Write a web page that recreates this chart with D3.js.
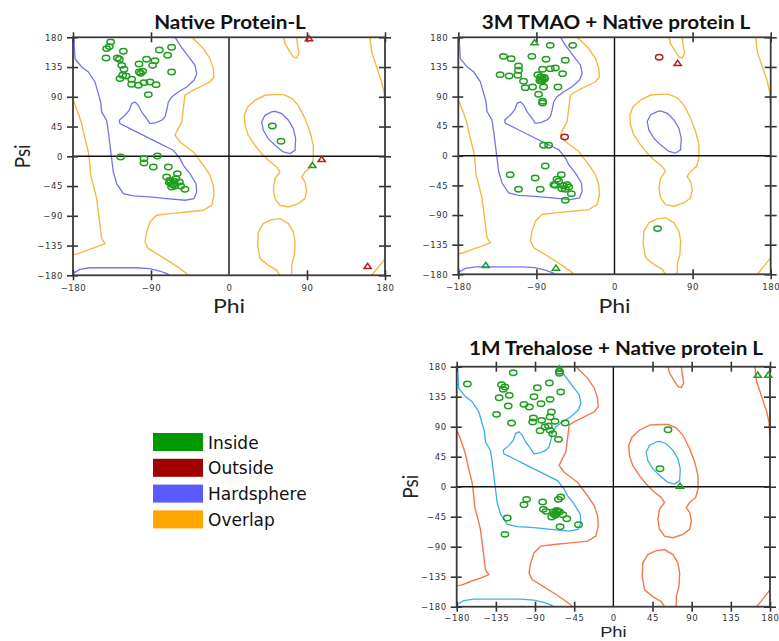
<!DOCTYPE html>
<html>
<head>
<meta charset="utf-8">
<script src="https://cdn.jsdelivr.net/npm/d3@7"></script>
<style>
  body { margin: 0; background: #fff; }
  svg { display: block; }
</style>
</head>
<body>
<svg id="chart" width="779" height="641"></svg>
<script>
// ---------- Ramachandran region contours, [phi, psi] in degrees ----------
const coreMain = [[-179,180],[-177.7,147.7],[-170,135.1],[-162.3,127.6],[-154.6,112.4],[-150.8,94.8],[-148.1,82.2],[-146.9,67.1],[-141.2,54.5],[-139.2,36.8],[-137.3,16.6],[-135.4,-3.5],[-133.5,-23.7],[-129.6,-41.3],[-121.9,-56.5],[-110.4,-60],[-91.2,-61.5],[-71.9,-64],[-50.8,-66.5],[-40.4,-64],[-37.3,-53.9],[-38.1,-41.3],[-45,-26.2],[-52.7,-13.6],[-56.5,-3.5],[-64.2,9.1],[-71.9,14.1],[-79.6,19.2],[-91.2,26.7],[-102.7,34.3],[-114.2,41.9],[-125.8,49.4],[-126.5,54.5],[-120,62],[-115,69.6],[-112.3,79.7],[-108.5,82.2],[-104.6,77.1],[-100.8,67.1],[-95,57],[-91.2,49.4],[-84.2,50.9],[-77.7,54.5],[-73.9,59.5],[-71.9,69.6],[-70,82.2],[-66.2,89.7],[-58.5,97.3],[-48.9,104.9],[-40.4,115],[-37.3,125],[-39.2,137.6],[-45,147.7],[-50.8,157.8],[-56.5,167.9],[-61.2,178],[-62.7,180]];
const coreBottom = [[-180,-177],[-172,-171],[-160.5,-168.6],[-137.6,-168.6],[-106.9,-168.6],[-91.5,-170],[-80,-173.5],[-72.3,-177],[-68.5,-180]];
const coreLeftAlpha = [[49.2,67.1],[41.5,62],[37.7,52],[39.6,39.3],[45.4,26.7],[53.1,16.6],[62.7,6.6],[70.4,4],[76.2,9.1],[76.9,26.7],[74.2,41.9],[68.5,54.5],[60.8,64.5],[53.1,68.1],[49.2,67.1]];

const allowedLeft = [[-180,80],[-178.8,82.2],[-173.8,64.5],[-170,49.4],[-166.2,26.7],[-162.3,6.6],[-160.4,-13.6],[-159.6,-28.7],[-156.5,-43.9],[-152.7,-64],[-150.8,-84.2],[-148.8,-104.4],[-146.9,-124.5],[-143.1,-132.1],[-152.7,-137.1],[-164.2,-142.2],[-173.8,-147.2],[-180,-148.7]];
const allowedMain = [[-43.1,180],[-37.3,172.9],[-29.6,162.9],[-21.9,147.7],[-18.1,132.6],[-17.3,120],[-21.9,112.4],[-33.5,104.9],[-45,97.3],[-50.8,92.3],[-52.7,72.1],[-54.6,52],[-59.6,39.3],[-62.3,31.8],[-56.5,21.7],[-48.9,14.1],[-41.2,6.6],[-35.4,-3.5],[-29.6,-13.6],[-21.9,-28.7],[-18.1,-43.9],[-17.3,-59],[-20,-74.1],[-29.6,-81.7],[-48.9,-84.2],[-68.1,-86.7],[-83.5,-89.2],[-91.2,-99.3],[-95,-114.4],[-96.9,-129.6],[-93.1,-139.7],[-83.5,-147.2],[-68.1,-159.8],[-56.5,-169.9],[-48.9,-177.5],[-46.9,-180]];
const allowedLeftAlpha = [[53.1,93.3],[41.5,92.3],[30,84.7],[21.5,74.6],[17.7,62],[18.5,46.9],[22.3,31.8],[30,16.6],[37.7,4],[45.4,-6],[55,-16.1],[58.8,-23.7],[53.1,-33.8],[51.2,-48.9],[53.1,-64],[58.8,-74.1],[68.5,-76.6],[80,-71.6],[87.7,-64],[89.6,-51.4],[87.7,-38.8],[83.8,-31.3],[87.7,-23.7],[94.6,-16.1],[97.3,-3.5],[97.3,16.6],[93.5,36.8],[87.7,57],[80,77.1],[72.3,88.2],[62.7,93.3],[53.1,93.3]];
const allowedTopLoop = [[62.7,180],[64.6,170.4],[70.4,157.8],[74.2,150.3],[78.1,148.7],[80.8,155.3],[79.2,167.9],[78.1,180]];
const allowedBottomLoop = [[58.8,-180],[55,-172.4],[45.4,-164.9],[35.8,-154.8],[33.1,-134.6],[33.8,-114.5],[39.6,-101.8],[49.2,-95.8],[58.8,-94.3],[68.5,-101.8],[74.2,-114.5],[76.2,-129.6],[75.4,-149.7],[72.3,-164.9],[72.3,-180]];
const allowedRightTop = [[162.7,180],[164.6,157.8],[168.5,142.7],[172.3,127.6],[176.2,112.4],[178.8,97.3],[179.6,79.7],[180,79],[180,112]];
const allowedRightBottom = [[180,-154.8],[175.4,-162.3],[170.4,-170.9],[164.6,-180]];

const coreContours = [coreMain, coreBottom, coreLeftAlpha];
const allowedContours = [allowedLeft, allowedMain, allowedLeftAlpha, allowedTopLoop, allowedBottomLoop, allowedRightTop, allowedRightBottom];

// ---------- residues, [phi, psi] ----------
const nativeInsideCircles = [[-136.5,172.9],[-138.1,165.9],[-141.2,162.9],[-141.9,148.7],[-128.8,148.7],[-121.9,158.8],[-126.5,146.7],[-123.8,137.6],[-121.2,131.6],[-122.7,122.5],[-125.8,117.5],[-118.8,121.5],[-112.3,116.5],[-112.3,108.9],[-104.6,107.4],[-98.1,111.4],[-91.2,112.4],[-84.2,108.4],[-103.5,127.6],[-99.6,128.6],[-101.9,125.5],[-103.8,139.7],[-95,146.7],[-85.4,144.7],[-88.1,137.6],[-80.4,160.8],[-66.2,164.9],[-70.8,152.8],[-66.2,127.6],[-93.1,93.3],
  [-125,-1],[-98.1,-3.5],[-98.1,-10.1],[-82.7,0.5],[-87.3,-16.1],[-70,-16.1],[-59.6,-26.2],[-71.9,-31.3],[-68.1,-36.3],[-64.2,-41.3],[-67.3,-38.8],[-65,-42.9],[-63.5,-37.8],[-66.2,-46.4],[-61.2,-33.8],[-68.9,-39.8],[-62.3,-44.9],[-57.3,-38.8],[-55.8,-44.9],[-50.8,-49.9],
  [50,45.9],[60,22.7]];
const nativeInsideTriangles = [[96.2,-13.6]];
const nativeOutsideCircles = [];
const nativeOutsideTriangles = [[92.3,178],[106.9,-4.5],[160,-166.4]];

const tmaoInsideCircles = [[-74,167.8],[-48.2,167.8],[-128,151.1],[-119.1,147.6],[-95.2,151.1],[-78.9,146.6],[-56.7,145.1],[-110.6,136.5],[-110.6,129.9],[-131.8,123.3],[-121.4,121.3],[-111.4,122.3],[-104.8,113.2],[-102.9,103.5],[-94.4,104.6],[-82.9,131.4],[-74,132.4],[-68.2,133.4],[-59.8,124.8],[-88.3,123.3],[-85.6,117.2],[-83.6,113.2],[-81.7,104.6],[-65.2,104.6],[-87.5,93.4],[-82.9,82.8],[-82.9,80.3],[-80.6,117.2],[-85,120],[-83,116],[-86,114],[-81,119],
  [-81.7,16],[-75.9,16],
  [-79.8,-15.4],[-120.3,-28.6],[-91.4,-33.7],[-110.6,-50.9],[-85.6,-50.9],[-61.3,-28.6],[-66.3,-35.7],[-68.2,-44.8],[-69.8,-43.8],[-64.4,-38.7],[-58.6,-45.8],[-54.7,-43.8],[-56.7,-50.9],[-49.7,-57.5],[-56.7,-67.6],[-60.5,-49.9],[-52.8,-47.3],
  [49.6,-110.6]];
const tmaoInsideTriangles = [[-92.1,171.9],[-148.4,-166.3],[-67.5,-170.4]];
const tmaoOutsideCircles = [[-57.5,28.6],[51.5,149.6]];
const tmaoOutsideTriangles = [[72.8,140.5]];

const trehaloseInsideCircles = [[-115,171],[-167.7,154],[-128.5,153],[-124.6,149.5],[-126.5,146],[-119.6,137],[-131.2,133.5],[-120.8,121],[-134.2,108.5],[-116.9,95.5],[-87.3,148.5],[-73.5,155.5],[-60.4,142],[-91.2,135],[-72.7,131],[-83.1,124.5],[-102.7,123.5],[-96.5,119.5],[-71.2,112],[-91.9,103],[-92.7,97],[-82.3,99.5],[-72.7,104.5],[-67,98],[-55.4,95.5],[-84.2,84],[-78.5,89.5],[-74.6,91],[-72.7,84.5],[-69.6,79.5],[-63.1,71],[-61.9,173],[-61.9,170],
  [-99.6,-19],[-102.7,-27],[-81.2,-23],[-60.4,-15.5],[-63.1,-19],[-80.4,-34],[-77.3,-37],[-68.9,-38],[-65,-35.5],[-61.9,-38],[-66.9,-43],[-70.8,-45.5],[-58.1,-42],[-53.5,-48],[-66,-40],[-64,-37],[-68,-41],[-121.9,-47],[-40,-57],[-61.2,-60],[-124.6,-71.5],
  [62.8,85.5],[53.6,27]];
const trehaloseInsideTriangles = [[-62,177],[76.6,1],[165.9,167.5],[178,167.5]];
const trehaloseOutsideCircles = [];
const trehaloseOutsideTriangles = [];

// ---------- labels and ticks ----------
const panelTitles = ["Native Protein-L", "3M TMAO + Native protein L", "1M Trehalose + Native protein L"];
const psiTicks = [180, 135, 90, 45, 0, -45, -90, -135, -180];
const phiTicksSparse = [-180, -90, 0, 90, 180];
const phiTicksDense = [-180, -135, -90, -45, 0, 45, 90, 135, 180];
const legendLabels = ["Inside", "Outside", "Hardsphere", "Overlap"];
const legendColors = ["#009a00", "#a00000", "#5a5aff", "#ffa500"];

// ---------- layout ----------
const panels = [
  { x0: 73, x1: 385, y0: 37.3, y1: 275.3, title: panelTitles[0], titleX: 230, titleY: 29,
    phiTicks: phiTicksSparse, tickPad: 5, phiLabelY: 313, phiSize: 19.5, phiFont: "Lato",
    psiLabel: true, psiLabelX: 30,
    core: "#7474ee", allowed: "#f6b845",
    inC: nativeInsideCircles, inT: nativeInsideTriangles, outC: nativeOutsideCircles, outT: nativeOutsideTriangles },
  { x0: 458.3, x1: 770.7, y0: 37.3, y1: 274.3, title: panelTitles[1], titleX: 616, titleY: 29,
    phiTicks: phiTicksSparse, tickPad: 5, phiLabelY: 313, phiSize: 19.5, phiFont: "Lato",
    psiLabel: false,
    core: "#7474ee", allowed: "#f6b845",
    inC: tmaoInsideCircles, inT: tmaoInsideTriangles, outC: tmaoOutsideCircles, outT: tmaoOutsideTriangles },
  { x0: 456.7, x1: 770, y0: 366.7, y1: 606.7, title: panelTitles[2], titleX: 616, titleY: 355,
    phiTicks: phiTicksDense, tickPad: 3, phiLabelY: 637.4, phiSize: 15.5, phiFont: "Liberation Sans",
    psiLabel: true, psiLabelX: 418,
    core: "#3aaee8", allowed: "#f27a4a",
    inC: trehaloseInsideCircles, inT: trehaloseInsideTriangles, outC: trehaloseOutsideCircles, outT: trehaloseOutsideTriangles }
];

const svg = d3.select("#chart");
const green = "#1f9e1f", red = "#b51d1d";
const tri = "M0,-3L3.6,2.2L-3.6,2.2Z";

function stretchedText(g, x, y, k, txt) {
  return g.append("text").attr("transform", `translate(${x},${y}) scale(${k},1)`).text(txt);
}

panels.forEach((p, i) => {
  const x = d3.scaleLinear().domain([-180, 180]).range([p.x0, p.x1]);
  const y = d3.scaleLinear().domain([-180, 180]).range([p.y1, p.y0]);
  const g = svg.append("g");

  const clipId = "clip" + i;
  svg.append("clipPath").attr("id", clipId).append("rect")
    .attr("x", p.x0).attr("y", p.y0).attr("width", p.x1 - p.x0).attr("height", p.y1 - p.y0);

  const line = d3.line().x(d => x(d[0])).y(d => y(d[1]));
  const cg = g.append("g").attr("clip-path", `url(#${clipId})`).attr("fill", "none");
  cg.selectAll("path.allowed").data(allowedContours).join("path")
    .attr("class", "allowed").attr("d", line).attr("stroke", p.allowed).attr("stroke-width", 1.4);
  cg.selectAll("path.core").data(coreContours).join("path")
    .attr("class", "core").attr("d", line).attr("stroke", p.core).attr("stroke-width", 1.3);

  // crosshair at phi = 0, psi = 0
  g.append("line").attr("x1", x(0)).attr("x2", x(0)).attr("y1", p.y0).attr("y2", p.y1)
    .attr("stroke", "#111").attr("stroke-width", 1.4);
  g.append("line").attr("x1", p.x0).attr("x2", p.x1).attr("y1", y(0)).attr("y2", y(0))
    .attr("stroke", "#111").attr("stroke-width", 1.4);

  // axes: ticks crossing each frame edge
  const tickStyle = a => a.selectAll("line").attr("stroke", "#333").attr("stroke-width", 1.6);
  const left = g.append("g").attr("transform", `translate(${p.x0},0)`)
    .call(d3.axisLeft(y).tickValues(psiTicks).tickSize(6).tickPadding(4).tickFormat(d3.format("d")));
  left.select(".domain").remove(); tickStyle(left);
  left.selectAll("text").attr("font-family", "DejaVu Sans").attr("font-size", 8.5).attr("fill", "#333")
    .attr("letter-spacing", 0.6);
  const leftIn = g.append("g").attr("transform", `translate(${p.x0},0)`)
    .call(d3.axisRight(y).tickValues(psiTicks).tickSize(5).tickFormat(""));
  leftIn.select(".domain").remove(); tickStyle(leftIn);
  [d3.axisLeft(y).tickSize(6), d3.axisRight(y).tickSize(6)].forEach(a => {
    const r = g.append("g").attr("transform", `translate(${p.x1},0)`).call(a.tickValues(psiTicks).tickFormat(""));
    r.select(".domain").remove(); tickStyle(r);
  });

  const bottom = g.append("g").attr("transform", `translate(0,${p.y1})`)
    .call(d3.axisBottom(x).tickValues(p.phiTicks).tickSize(5).tickPadding(p.tickPad).tickFormat(d3.format("d")));
  bottom.select(".domain").remove(); tickStyle(bottom);
  bottom.selectAll(".tick").filter(d => d === 0).select("line").remove();
  bottom.selectAll("text").attr("font-family", "DejaVu Sans").attr("font-size", 8.5).attr("fill", "#333")
    .attr("letter-spacing", 0.6);
  const bottomIn = g.append("g").attr("transform", `translate(0,${p.y1})`)
    .call(d3.axisTop(x).tickValues(p.phiTicks.filter(d => d !== 0)).tickSize(5).tickFormat(""));
  bottomIn.select(".domain").remove(); tickStyle(bottomIn);
  [d3.axisTop(x).tickSize(5), d3.axisBottom(x).tickSize(5)].forEach(a => {
    const t = g.append("g").attr("transform", `translate(0,${p.y0})`)
      .call(a.tickValues(p.phiTicks.filter(d => d !== 0)).tickFormat(""));
    t.select(".domain").remove(); tickStyle(t);
  });

  // frame
  g.append("rect").attr("x", p.x0).attr("y", p.y0).attr("width", p.x1 - p.x0).attr("height", p.y1 - p.y0)
    .attr("fill", "none").attr("stroke", "#3a3a3a").attr("stroke-width", 1.8);

  // residues
  const mg = g.append("g").attr("fill", "none").attr("stroke-width", 1.5);
  mg.selectAll("ellipse.in").data(p.inC).join("ellipse").attr("class", "in")
    .attr("cx", d => x(d[0])).attr("cy", d => y(d[1])).attr("rx", 3.7).attr("ry", 2.7).attr("stroke", green);
  mg.selectAll("ellipse.out").data(p.outC).join("ellipse").attr("class", "out")
    .attr("cx", d => x(d[0])).attr("cy", d => y(d[1])).attr("rx", 3.7).attr("ry", 2.7).attr("stroke", red);
  mg.selectAll("path.in").data(p.inT).join("path").attr("class", "in")
    .attr("transform", d => `translate(${x(d[0])},${y(d[1])})`).attr("d", tri).attr("stroke", green);
  mg.selectAll("path.out").data(p.outT).join("path").attr("class", "out")
    .attr("transform", d => `translate(${x(d[0])},${y(d[1])})`).attr("d", tri).attr("stroke", red);

  // titles and axis names
  stretchedText(g, p.titleX, p.titleY, 1.15, p.title)
    .attr("text-anchor", "middle").attr("font-family", "Lato").attr("font-weight", "bold")
    .attr("font-size", 18).attr("fill", "#111");
  stretchedText(g, x(0), p.phiLabelY, 1.18, "Phi")
    .attr("text-anchor", "middle").attr("font-family", p.phiFont).attr("font-size", p.phiSize).attr("fill", "#222");
  if (p.psiLabel) {
    g.append("text").attr("transform", `translate(${p.psiLabelX},${y(0)}) rotate(-90) scale(1,1.15)`)
      .attr("text-anchor", "middle").attr("font-family", "Lato").attr("font-size", 19)
      .attr("fill", "#222").text("Psi");
  }
});

// legend
const lg = svg.append("g").attr("transform", "translate(153,433)");
const items = lg.selectAll("g").data(legendLabels).join("g")
  .attr("transform", (d, i) => `translate(0,${i * 25.8})`);
items.append("rect").attr("width", 50).attr("height", 18).attr("fill", (d, i) => legendColors[i]);
items.append("text").attr("x", 55).attr("y", 15.5).attr("font-family", "DejaVu Sans").attr("font-size", 17)
  .attr("fill", "#111").text(d => d);
</script>
</body>
</html>
